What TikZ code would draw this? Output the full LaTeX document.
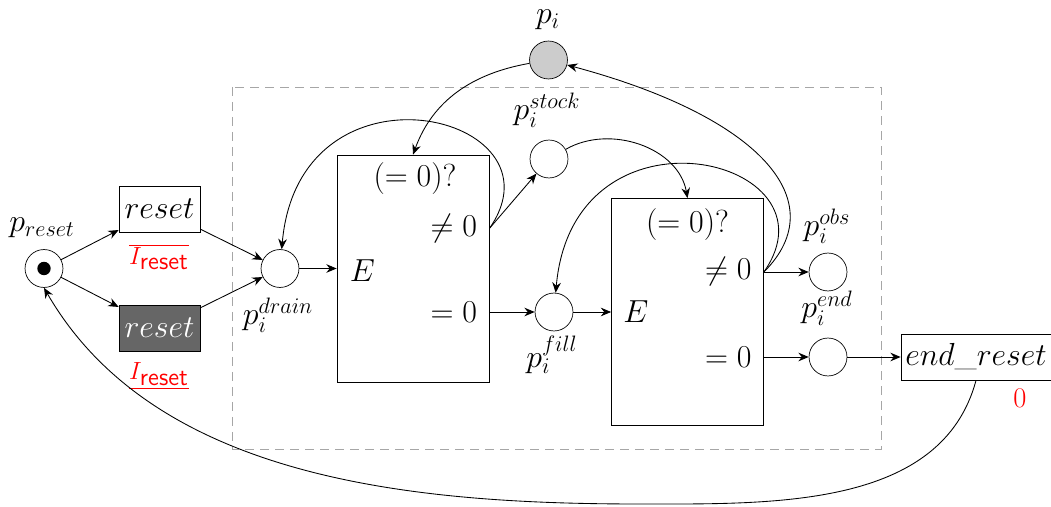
\RequirePackage{fix-cm}
\documentclass[tikz,border=0pt]{standalone}
\usepackage{xcolor}
\usepackage{tikz}
\usetikzlibrary{arrows.meta,calc}
\tikzset{
  place/.style={
    draw,
    circle,
    minimum size=22pt,
    inner sep=0pt
  },
  trans/.style={
    draw,
    rectangle,
    minimum width=47pt,
    minimum height=26.7pt,
    inner sep=2pt
  },
  testbox/.style={
    draw,
    rectangle,
    minimum width=88.2pt,
    minimum height=131.7pt
  },
  boxtxt/.style={inner sep=0pt},
  guard/.style={text=red, font=\fontsize{14.4}{17}\selectfont},
  frame/.style={draw=black!35, dash pattern=on 5.2pt off 3.5pt},
  arc/.style={-{Stealth[length=6pt,width=5pt,inset=2pt]}, line width=0.5pt}
}

\begin{document}
\begin{tikzpicture}[x=0.58pt, y=0.58pt, font=\fontsize{18.5}{22}\selectfont]
  \useasboundingbox (0,0) rectangle (1051,507);

  % outer part
  \node[place] (preset) at (44,238.5) {};
  \fill (preset.center) circle (6.7);
  \node (lpreset) at (42,279) {$p_{reset}$};
  \node[trans] (rst1) at (159.5,298) {$reset$};
  \node[guard] (lrst1) at (159,250) {$\overline{I_{\textsf{reset}}}$};
  \node[trans, fill=black!60, text=white] (rst2) at (159.5,179) {$reset$};
  \node[guard] (lrst2) at (159,131) {$\underline{I_{\textsf{reset}}}$};
  \node[place, fill=black!20] (pi) at (548.5,447) {};
  \node (lpi) at (548,487) {$p_i$};

  % reset gadget
  \draw[frame] (232,420) rectangle (881,58);
  \node[place] (drain) at (280,238.5) {};
  \node (ldrain) at (278,192) {$p_i^{drain}$};
  \node[testbox] (box1) at (413,238.5) {};
  \node[boxtxt] (q1) at ($(box1.north)+(2,-24)$) {$(=0)?$};
  \node[boxtxt, anchor=east] (ne1) at ($(box1.east)+(-12,40)$) {$\neq 0$};
  \node[boxtxt, anchor=east] (eq1) at ($(box1.east)+(-12,-43.5)$) {$=0$};
  \node[boxtxt, anchor=west] (e1) at ($(box1.west)+(13,-2)$) {$E$};
  \node[place] (stock) at (549,348) {};
  \node (lstock) at (547,397) {$p_i^{stock}$};
  \node[place] (fill) at (554,195) {};
  \node (lfill) at (552,152) {$p_i^{fill}$};
  \node[testbox] (box2) at (687.5,195) {};
  \node[boxtxt] (q2) at ($(box2.north)+(0,-26)$) {$(=0)?$};
  \node[boxtxt, anchor=east] (ne2) at ($(box2.east)+(-12,40)$) {$\neq 0$};
  \node[boxtxt, anchor=east] (eq2) at ($(box2.east)+(-12,-45)$) {$=0$};
  \node[boxtxt, anchor=west] (e2) at ($(box2.west)+(12,0)$) {$E$};
  \node[place] (obs) at (828,235) {};
  \node (lobs) at (827,281) {$p_i^{obs}$};
  \node[place] (pend) at (828,150) {};
  \node (lend) at (827,199) {$p_i^{end}$};
  \node[trans, minimum width=87pt] (endrst) at (976,150) {$end\_reset$};
  \node[guard, font=\fontsize{16.5}{20}\selectfont] (lzero) at (1020,109) {0};
  \coordinate (low) at (640,3);

  \draw[arc] (preset) -- (rst1);
  \draw[arc] (preset) -- (rst2);
  \draw[arc] (rst1) -- (drain);
  \draw[arc] (rst2) -- (drain);
  \draw[arc] (drain) -- (box1);
  \draw[arc] (pi) to[out=190, in=70] (box1.north);
  \draw[arc] (box1.east |- ne1) to[out=55, in=85, out distance=81pt, in distance=116pt] (drain);
  \draw[arc] (box1.east |- ne1) -- (stock);
  \draw[arc] (box1.east |- eq1) -- (fill);
  \draw[arc] (stock) to[out=30, in=100] (box2.north);
  \draw[arc] (fill) -- (box2);
  \draw[arc] (box2.east |- ne2) to[out=55, in=85, out distance=81pt, in distance=116pt] (fill);
  \draw[arc] (box2.east |- ne2) to[out=45, in=-15, out distance=58pt, in distance=116pt] (pi);
  \draw[arc] (box2.east |- ne2) -- (obs);
  \draw[arc] (box2.east |- eq2) -- (pend);
  \draw[arc] (pend) -- (endrst);
  \draw[arc] (endrst.south) to[out=-105, in=0, looseness=0.95] (low)
    to[out=180, in=-60, looseness=0.9] (preset.south);
\end{tikzpicture}
\end{document}
